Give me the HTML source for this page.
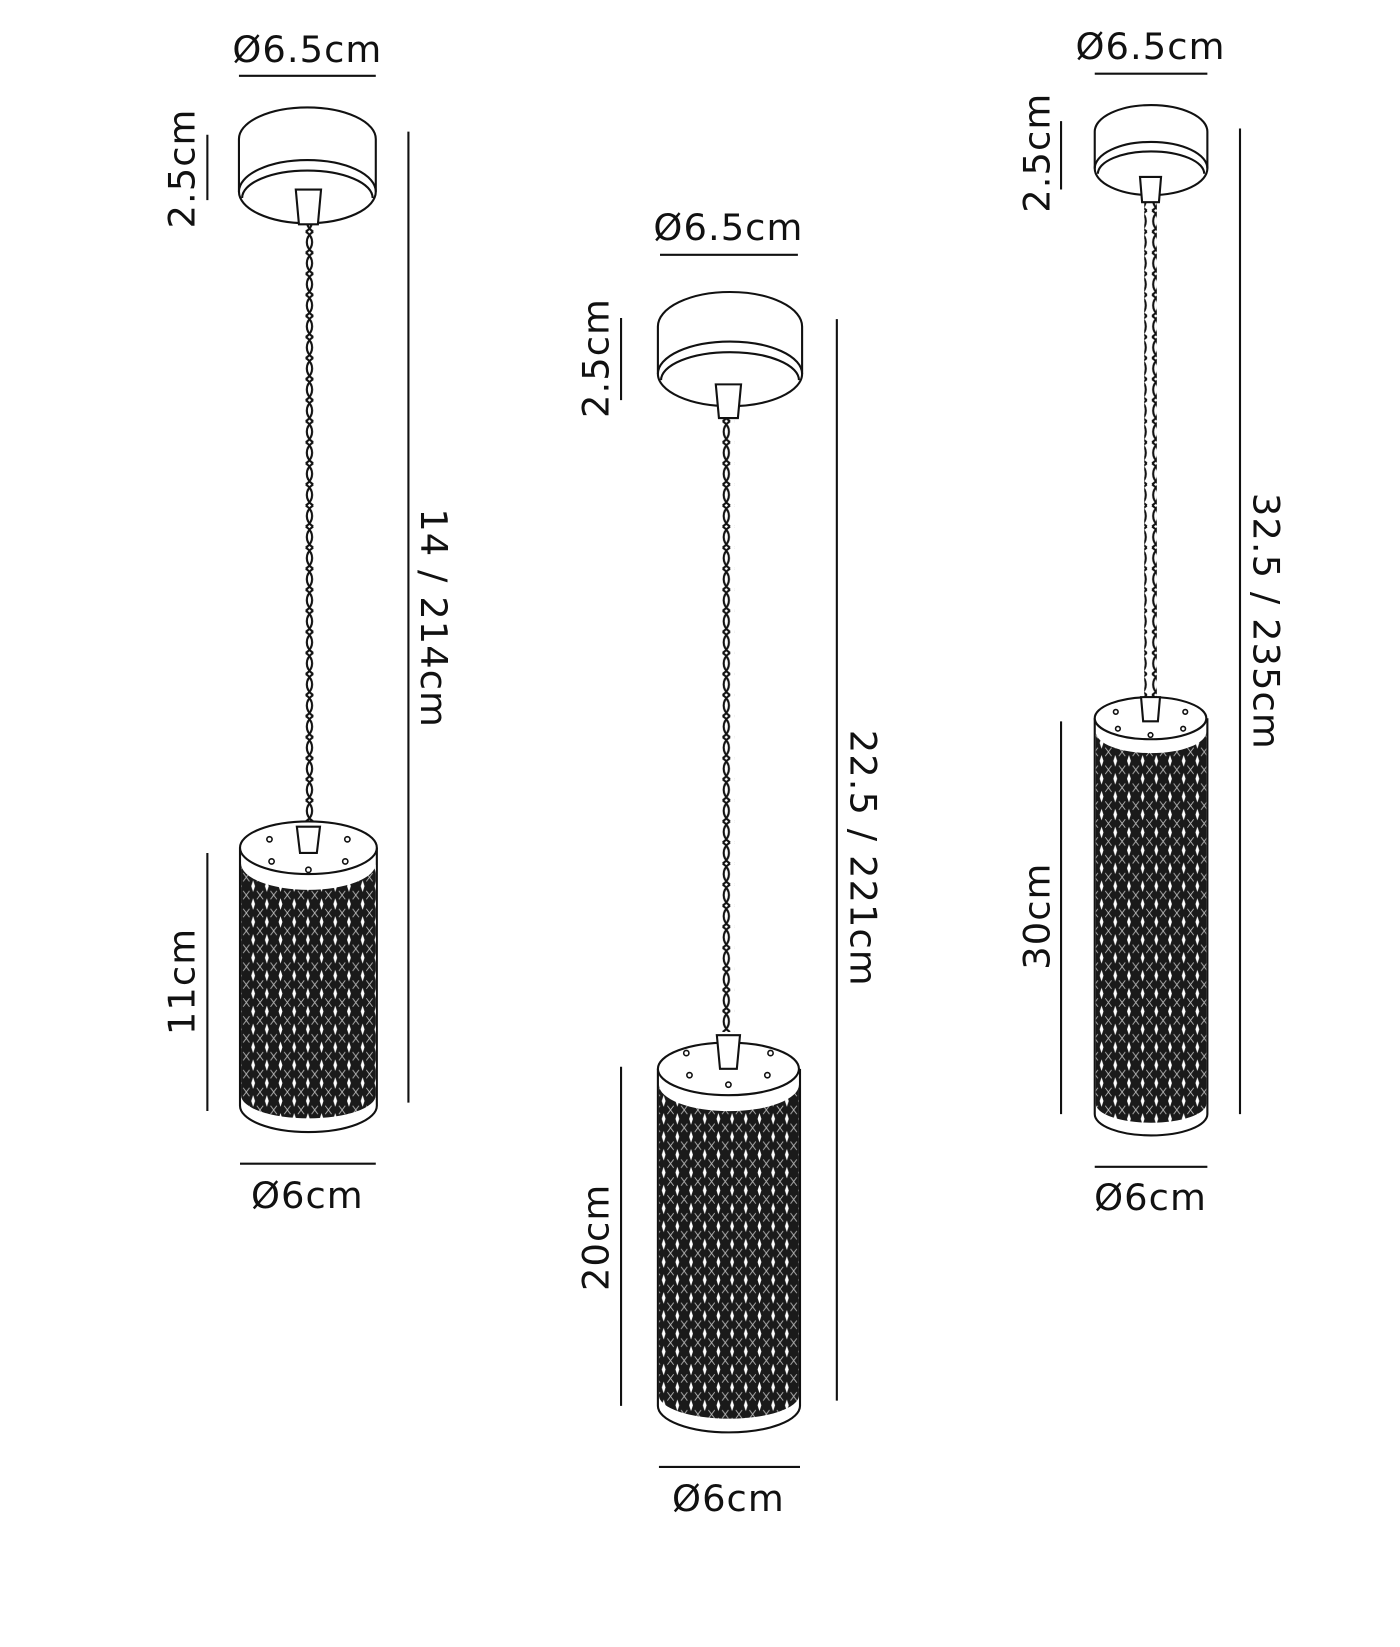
<!DOCTYPE html>
<html><head><meta charset="utf-8"><style>
html,body{margin:0;padding:0;background:#fff;}
svg{display:block;}
text{font-family:"DejaVu Sans","Liberation Sans",sans-serif;font-size:35px;fill:#111;letter-spacing:1px;}
</style></head><body>
<svg width="1400" height="1647" viewBox="0 0 1330 1564" preserveAspectRatio="none" xmlns="http://www.w3.org/2000/svg">
<defs>
<pattern id="mesh" width="13" height="17" patternUnits="userSpaceOnUse">
<rect width="13" height="17" fill="#1a1a1a"/>
<path d="M6.5,3 L8.3,8.5 L6.5,14 L4.7,8.5 Z" fill="#fff"/>
<path d="M0,0 L3,4 M13,0 L10,4 M0,17 L3,13 M13,17 L10,13" stroke="#bbb" stroke-width="0.8"/>
</pattern>
<pattern id="cord" width="12" height="20" patternUnits="userSpaceOnUse">
<rect width="12" height="20" fill="#fff"/>
<path d="M2.5,0 C10.5,5 10.5,15 2.5,20 M9.5,0 C1.5,5 1.5,15 9.5,20" stroke="#111" stroke-width="2" fill="none"/>
</pattern>
</defs>
<g stroke="#111" stroke-width="2" fill="none">
<!-- Pendant 1 -->
<line x1="227" y1="72" x2="357" y2="72"/>
<line x1="197" y1="128" x2="197" y2="190"/>
<line x1="388" y1="125" x2="388" y2="1047"/>
<line x1="197" y1="810" x2="197" y2="1055"/>
<line x1="228" y1="1105" x2="357" y2="1105"/>
<path d="M227,132 A65,30 0 0 1 357,132 L357,182 A65,30 0 0 1 227,182 Z" fill="#fff"/>
<path d="M227,182 A65,30 0 0 1 357,182"/>
<path d="M230,188 A62,26 0 0 1 354,188"/>
<rect x="287" y="213" width="12" height="567" fill="url(#cord)" stroke="none"/>
<path d="M281,180 L305,180 L302,213 L284,213 Z" fill="#fff"/>
<path d="M228,805 L228,1050 A65,25 0 0 0 358,1050 L358,805" fill="#fff"/>
<path d="M229,820 A64,25 0 0 0 357,820 L357,1040 A64,22 0 0 1 229,1040 Z" fill="url(#mesh)" stroke="none"/>
<ellipse cx="293" cy="805" rx="65" ry="25" fill="#fff"/>
<path d="M282,785 L304,785 L301,810 L285,810 Z" fill="#fff"/>
<g stroke-width="1.5"><circle cx="256" cy="797" r="2.5"/><circle cx="330" cy="797" r="2.5"/><circle cx="258" cy="818" r="2.5"/><circle cx="328" cy="818" r="2.5"/><circle cx="293" cy="826" r="2.5"/></g>

<!-- Pendant 2 -->
<line x1="627" y1="242" x2="758" y2="242"/>
<line x1="590" y1="302" x2="590" y2="380"/>
<line x1="795" y1="303" x2="795" y2="1330"/>
<line x1="590" y1="1013" x2="590" y2="1335"/>
<line x1="626" y1="1393" x2="760" y2="1393"/>
<path d="M625,310 A67,32 0 0 1 762,310 L762,355 A67,30 0 0 1 625,355 Z" fill="#fff"/>
<path d="M625,355 A67,30 0 0 1 762,355"/>
<path d="M628,361 A64,26 0 0 1 759,361"/>
<rect x="686" y="396" width="12" height="584" fill="url(#cord)" stroke="none"/>
<path d="M680,365 L704,365 L701,397 L683,397 Z" fill="#fff"/>
<path d="M625,1015 L625,1335 A67,25 0 0 0 760,1335 L760,1015" fill="#fff"/>
<path d="M626,1030 A66,25 0 0 0 759,1030 L759,1325 A66,22 0 0 1 626,1325 Z" fill="url(#mesh)" stroke="none"/>
<ellipse cx="692" cy="1015" rx="67" ry="25" fill="#fff"/>
<path d="M681,983 L703,983 L700,1015 L684,1015 Z" fill="#fff"/>
<g stroke-width="1.5"><circle cx="652" cy="1000" r="2.5"/><circle cx="732" cy="1000" r="2.5"/><circle cx="655" cy="1021" r="2.5"/><circle cx="729" cy="1021" r="2.5"/><circle cx="692" cy="1030" r="2.5"/></g>

<!-- Pendant 3 -->
<line x1="1040" y1="70" x2="1147" y2="70"/>
<line x1="1008" y1="115" x2="1008" y2="180"/>
<line x1="1178" y1="122" x2="1178" y2="1058"/>
<line x1="1008" y1="685" x2="1008" y2="1058"/>
<line x1="1040" y1="1108" x2="1147" y2="1108"/>
<path d="M1040,125 A53,25 0 0 1 1147,125 L1147,160 A53,25 0 0 1 1040,160 Z" fill="#fff"/>
<path d="M1040,160 A53,25 0 0 1 1147,160"/>
<path d="M1043,165 A50,21 0 0 1 1144,165"/>
<rect x="1087" y="192" width="12" height="470" fill="url(#cord)" stroke="none"/>
<path d="M1083,168 L1103,168 L1101,192 L1085,192 Z" fill="#fff"/>
<path d="M1040,682 L1040,1058 A53,20 0 0 0 1147,1058 L1147,682" fill="#fff"/>
<path d="M1041,695 A52,20 0 0 0 1146,695 L1146,1048 A52,18 0 0 1 1041,1048 Z" fill="url(#mesh)" stroke="none"/>
<ellipse cx="1093" cy="682" rx="53" ry="20" fill="#fff"/>
<path d="M1084,662 L1102,662 L1100,685 L1086,685 Z" fill="#fff"/>
<g stroke-width="1.5"><circle cx="1060" cy="676" r="2.2"/><circle cx="1126" cy="676" r="2.2"/><circle cx="1062" cy="692" r="2.2"/><circle cx="1124" cy="692" r="2.2"/><circle cx="1093" cy="698" r="2.2"/></g>
</g>

<g text-anchor="middle">
<text x="292" y="59">Ø6.5cm</text>
<text x="292" y="1147">Ø6cm</text>
<text transform="translate(185,160) rotate(-90)">2.5cm</text>
<text transform="translate(185,932) rotate(-90)">11cm</text>
<text transform="translate(400,587) rotate(90)">14 / 214cm</text>

<text x="692" y="228">Ø6.5cm</text>
<text x="692" y="1435">Ø6cm</text>
<text transform="translate(578,340) rotate(-90)">2.5cm</text>
<text transform="translate(578,1175) rotate(-90)">20cm</text>
<text transform="translate(808,815) rotate(90)">22.5 / 221cm</text>

<text x="1093" y="56">Ø6.5cm</text>
<text x="1093" y="1149">Ø6cm</text>
<text transform="translate(997,145) rotate(-90)">2.5cm</text>
<text transform="translate(997,870) rotate(-90)">30cm</text>
<text transform="translate(1191,590) rotate(90)">32.5 / 235cm</text>
</g>
</svg>
</body></html>
